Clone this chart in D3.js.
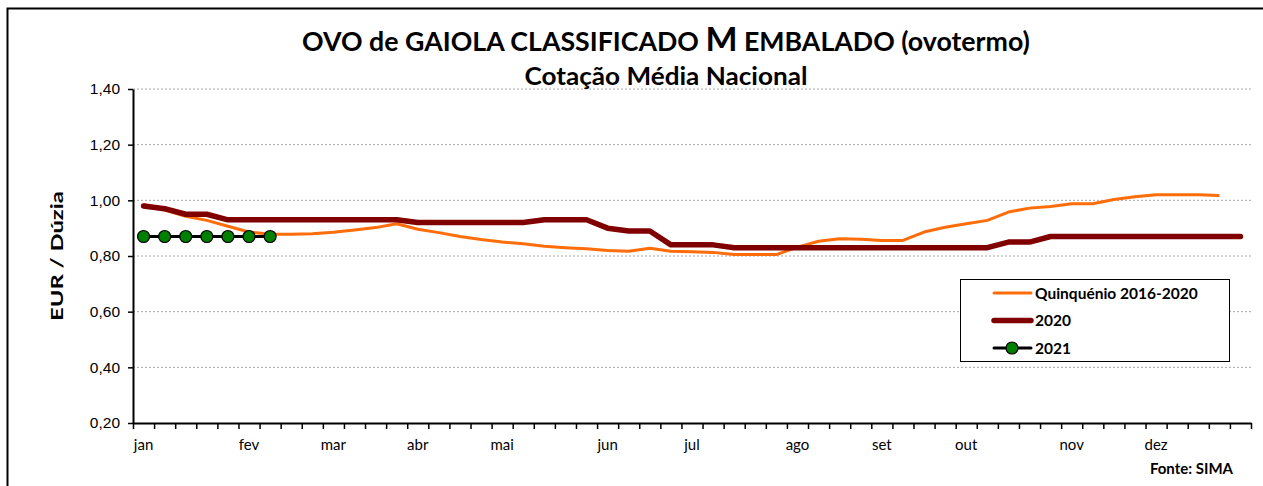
<!DOCTYPE html>
<html>
<head>
<meta charset="utf-8">
<script src="https://cdn.jsdelivr.net/npm/d3@7"></script>
<style>
  body { margin: 0; background: #fff; }
  svg { display: block; }
  .calib { font-family: Lato, "Open Sans", sans-serif; }
  .arial { font-family: "Liberation Sans", Arial, sans-serif; }
</style>
</head>
<body>
<div id="chart"></div>
<script>
const w = 1263;
const h = 486;

// 53 semanas; rótulo do mês na semana em que começa
const weeks = d3.range(53);
const monthLabels = {0: "jan", 5: "fev", 9: "mar", 13: "abr", 17: "mai", 22: "jun",
                     26: "jul", 31: "ago", 35: "set", 39: "out", 44: "nov", 48: "dez"};

const quinquenio = [0.985, 0.965, 0.943, 0.928, 0.907, 0.886, 0.878, 0.878, 0.880, 0.885,
                    0.893, 0.902, 0.916, 0.896, 0.884, 0.870, 0.859, 0.850, 0.844, 0.835,
                    0.830, 0.826, 0.820, 0.817, 0.828, 0.817, 0.815, 0.813, 0.805, 0.805,
                    0.805, 0.832, 0.853, 0.862, 0.860, 0.856, 0.856, 0.886, 0.903, 0.916,
                    0.928, 0.958, 0.972, 0.978, 0.988, 0.988, 1.003, 1.013, 1.020, 1.020,
                    1.020, 1.017];
const ano2020 = [0.98, 0.97, 0.95, 0.95, 0.93, 0.93, 0.93, 0.93, 0.93, 0.93,
                 0.93, 0.93, 0.93, 0.92, 0.92, 0.92, 0.92, 0.92, 0.92, 0.93,
                 0.93, 0.93, 0.90, 0.89, 0.89, 0.84, 0.84, 0.84, 0.83, 0.83,
                 0.83, 0.83, 0.83, 0.83, 0.83, 0.83, 0.83, 0.83, 0.83, 0.83,
                 0.83, 0.85, 0.85, 0.87, 0.87, 0.87, 0.87, 0.87, 0.87, 0.87,
                 0.87, 0.87, 0.87];
const ano2021 = [0.87, 0.87, 0.87, 0.87, 0.87, 0.87, 0.87];

const yTicks = [0.2, 0.4, 0.6, 0.8, 1.0, 1.2, 1.4];

const margin = {left: 133, right: 1251, top: 89, bottom: 423};

const svg = d3.select("#chart").append("svg")
    .attr("width", w).attr("height", h);

// moldura
svg.append("rect")
    .attr("x", 7.5).attr("y", 8.5)
    .attr("width", w + 10).attr("height", h + 10)
    .attr("fill", "none").attr("stroke", "#000").attr("stroke-width", 2);

const x = d3.scaleBand().domain(weeks).range([margin.left, margin.right]).padding(0);
const xEdge = d3.scaleLinear().domain([0, 53]).range([margin.left, margin.right]);
const y = d3.scaleLinear().domain([0.2, 1.4]).range([margin.bottom, margin.top]);
const cx = i => x(i) + x.bandwidth() / 2;

// grelha
svg.append("g").selectAll("line")
    .data(yTicks.slice(1))
    .enter().append("line")
    .attr("x1", margin.left).attr("x2", margin.right)
    .attr("y1", d => y(d)).attr("y2", d => y(d))
    .attr("stroke", "#a6a6a6").attr("stroke-width", 1)
    .attr("stroke-dasharray", "2,2");

// eixo y
const yAxis = svg.append("g")
    .attr("transform", "translate(" + margin.left + ",0)")
    .call(d3.axisLeft(y).tickValues(yTicks).tickSize(5).tickSizeOuter(0)
        .tickFormat(d => d3.format(".2f")(d).replace(".", ",")));
yAxis.select(".domain").attr("stroke-width", 2);
yAxis.selectAll(".tick line").attr("stroke-width", 1.5);
yAxis.selectAll("text").attr("class", "arial").attr("font-size", 15.5).attr("fill", "#000")
    .attr("x", -13);

// eixo x: marcas entre categorias
const xTicks = svg.append("g")
    .attr("transform", "translate(0," + margin.bottom + ")")
    .call(d3.axisBottom(xEdge).tickValues(d3.range(54)).tickSize(6).tickSizeOuter(0).tickFormat(""));
xTicks.select(".domain").attr("stroke-width", 2);
xTicks.selectAll(".tick line").attr("stroke-width", 1.5);

// rótulos dos meses
const xLabels = svg.append("g")
    .attr("transform", "translate(0," + margin.bottom + ")")
    .call(d3.axisBottom(x).tickSize(0).tickFormat(d => monthLabels[d] || ""));
xLabels.select(".domain").remove();
xLabels.selectAll("text").attr("class", "calib").attr("font-size", 15).attr("fill", "#000")
    .attr("y", 16);

// séries
const line = d3.line().x((d, i) => cx(i)).y(d => y(d));

svg.append("path").datum(quinquenio)
    .attr("d", line).attr("fill", "none")
    .attr("stroke", "#ff6c0a").attr("stroke-width", 3).attr("stroke-linejoin", "round");

svg.append("path").datum(ano2020)
    .attr("d", line).attr("fill", "none")
    .attr("stroke", "#800000").attr("stroke-width", 5.5)
    .attr("stroke-linejoin", "round").attr("stroke-linecap", "round");

svg.append("path").datum(ano2021)
    .attr("d", line).attr("fill", "none")
    .attr("stroke", "#000").attr("stroke-width", 3);

svg.append("g").selectAll("circle")
    .data(ano2021)
    .enter().append("circle")
    .attr("cx", (d, i) => cx(i)).attr("cy", d => y(d)).attr("r", 6)
    .attr("fill", "#008000").attr("stroke", "#000").attr("stroke-width", 1.2);

// ajusta largura do texto
function fitWidth(sel, target) {
    const len = sel.node().getComputedTextLength();
    const ax = +sel.attr("x");
    sel.attr("transform", "translate(" + ax + ",0) scale(" + (target / len) + ",1) translate(" + (-ax) + ",0)");
}

// títulos
const title = svg.append("text").attr("class", "calib")
    .attr("x", 666).attr("y", 51).attr("text-anchor", "middle")
    .attr("font-weight", "bold").attr("font-size", 26);
title.append("tspan").text("OVO de GAIOLA CLASSIFICADO ");
title.append("tspan").attr("font-size", 33).text("M");
title.append("tspan").text(" EMBALADO (ovotermo)");
fitWidth(title, 728);

const subtitle = svg.append("text").attr("class", "calib")
    .attr("x", 666).attr("y", 85).attr("text-anchor", "middle")
    .attr("font-weight", "bold").attr("font-size", 24)
    .text("Cotação Média Nacional");
fitWidth(subtitle, 283);

const ytitle = svg.append("text").attr("class", "calib")
    .attr("x", 0).attr("y", 0)
    .attr("text-anchor", "middle")
    .attr("font-weight", "bold").attr("font-size", 17)
    .text("EUR / Dúzia");
fitWidth(ytitle, 130);
svg.append("g").attr("transform", "translate(63,256) rotate(-90)").node().appendChild(ytitle.node());

svg.append("text").attr("class", "calib")
    .attr("x", 1233).attr("y", 474).attr("text-anchor", "end")
    .attr("font-weight", "bold").attr("font-size", 15)
    .text("Fonte: SIMA");

// legenda
const legendItems = [
    {name: "Quinquénio 2016-2020", color: "#ff6c0a", width: 3, marker: false},
    {name: "2020", color: "#800000", width: 5.5, marker: false},
    {name: "2021", color: "#000", width: 3, marker: true}
];
const legend = svg.append("g");
legend.append("rect")
    .attr("x", 960.5).attr("y", 279.5).attr("width", 269).attr("height", 82)
    .attr("fill", "#fff").attr("stroke", "#000").attr("stroke-width", 1);
const li = legend.selectAll("g.item")
    .data(legendItems).enter().append("g")
    .attr("transform", (d, i) => "translate(0," + (293 + i * 27.5) + ")");
li.append("line")
    .attr("x1", 994).attr("x2", 1031).attr("y1", 0).attr("y2", 0)
    .attr("stroke", d => d.color).attr("stroke-width", d => d.width)
    .attr("stroke-linecap", "round");
li.filter(d => d.marker).append("circle")
    .attr("cx", 1012).attr("cy", 0).attr("r", 6)
    .attr("fill", "#008000").attr("stroke", "#000").attr("stroke-width", 1.2);
li.append("text").attr("class", "calib")
    .attr("x", 1035).attr("y", 5.5)
    .attr("font-weight", "bold").attr("font-size", 15.5)
    .text(d => d.name);
</script>
</body>
</html>
